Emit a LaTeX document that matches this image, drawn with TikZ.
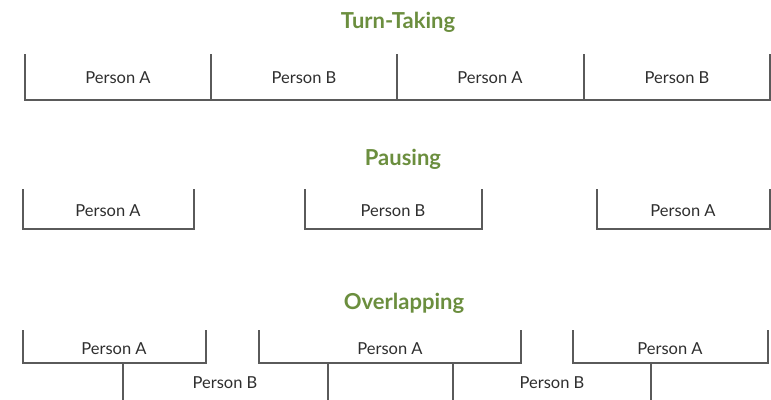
\documentclass[tikz,border=0pt]{standalone}
\usepackage{fontspec}
\setmainfont{Lato}
\definecolor{titlegreen}{HTML}{6B8E3E}
\definecolor{linegray}{HTML}{5A5A5A}
\definecolor{textgray}{HTML}{2E2E2E}
\begin{document}
\begin{tikzpicture}[x=1pt,y=-1pt,
  bline/.style={draw=linegray,line width=1.1pt},
  lbl/.style={text=textgray,font=\fontsize{16.5}{19}\selectfont,inner sep=0pt},
  ttl/.style={text=titlegreen,font=\bfseries\fontsize{22}{25}\selectfont,inner sep=0pt}]
\useasboundingbox (0,0) rectangle (771,399);
% Turn-Taking
\node[ttl] (t1) at (398,22) {Turn-Taking};
\draw[bline] (25,54) -- (25,100) -- (770,100) -- (770,54);
\draw[bline] (211,54) -- (211,100);
\draw[bline] (397,54) -- (397,100);
\draw[bline] (584,54) -- (584,100);
\node[lbl] (ta1) at (118,78) {Person A};
\node[lbl] (tb1) at (304,78) {Person B};
\node[lbl] (ta2) at (490,78) {Person A};
\node[lbl] (tb2) at (677,78) {Person B};
% Pausing
\node[ttl] (t2) at (403,159) {Pausing};
\draw[bline] (23,189) -- (23,229) -- (194,229) -- (194,189);
\draw[bline] (305,189) -- (305,229) -- (482,229) -- (482,189);
\draw[bline] (597,189) -- (597,229) -- (770,229) -- (770,189);
\node[lbl] (pa1) at (108,211) {Person A};
\node[lbl] (pb1) at (393,211) {Person B};
\node[lbl] (pa2) at (683,211) {Person A};
% Overlapping
\node[ttl] (t3) at (404,303) {Overlapping};
\draw[bline] (23,330) -- (23,363) -- (206,363) -- (206,330);
\draw[bline] (259,330) -- (259,363) -- (521,363) -- (521,330);
\draw[bline] (573,330) -- (573,363) -- (768,363) -- (768,330);
\draw[bline] (123,363) -- (123,399.5);
\draw[bline] (328,363) -- (328,399.5);
\draw[bline] (453,363) -- (453,399.5);
\draw[bline] (651,363) -- (651,399.5);
\node[lbl] (oa1) at (114,349) {Person A};
\node[lbl] (oa2) at (390,349) {Person A};
\node[lbl] (oa3) at (670,349) {Person A};
\node[lbl] (ob1) at (225,383) {Person B};
\node[lbl] (ob2) at (552,383) {Person B};
\end{tikzpicture}
\end{document}
